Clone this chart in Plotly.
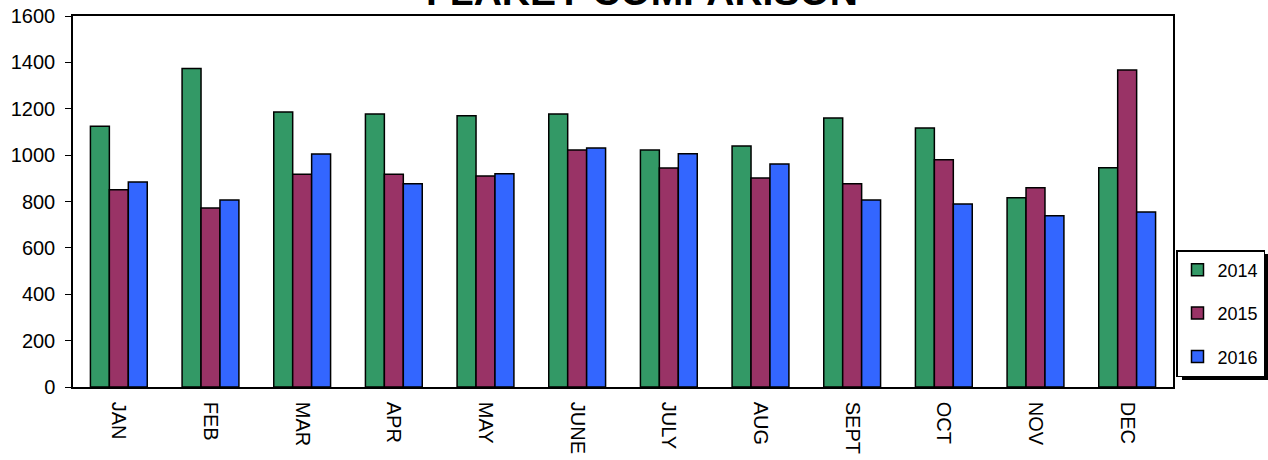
import plotly.graph_objects as go

months = ["JAN", "FEB", "MAR", "APR", "MAY", "JUNE", "JULY", "AUG", "SEPT", "OCT", "NOV", "DEC"]
v2014 = [1125, 1374, 1186, 1177, 1170, 1177, 1022, 1039, 1160, 1117, 816, 946]
v2015 = [851, 772, 918, 918, 910, 1022, 944, 901, 877, 980, 859, 1367]
v2016 = [884, 806, 1005, 877, 920, 1031, 1006, 962, 807, 789, 739, 755]
series = [("2014", v2014, "#339966"), ("2015", v2015, "#993366"), ("2016", v2016, "#3366FF")]

FONT = "Arial, Liberation Sans, sans-serif"
W, H = 1268, 460
ML, MR, MT, MB = 73, 95, 16, 73
PW, PH = W - ML - MR, H - MT - MB


def px_x(p):
    return (p - ML) / PW


def px_y(p):
    return (H - MB - p) / PH


fig = go.Figure()
for name, vals, col in series:
    fig.add_trace(go.Bar(
        x=months, y=vals, name=name, legendgroup=name,
        marker=dict(color=col, line=dict(color="black", width=1.5)),
    ))

LEG_R, LEG_T = 1265, 250
fig.update_layout(
    width=W, height=H,
    margin=dict(l=ML, r=MR, t=MT, b=MB, autoexpand=False),
    paper_bgcolor="white", plot_bgcolor="white",
    barmode="group", bargap=0.38, bargroupgap=0,
    font=dict(family=FONT, size=20, color="black"),
    showlegend=True,
    legend=dict(
        x=px_x(LEG_R), y=px_y(LEG_T), xanchor="right", yanchor="top",
        bordercolor="black", borderwidth=1.5, bgcolor="white",
        font=dict(size=18), tracegroupgap=17,
        itemwidth=30,
    ),
    annotations=[dict(
        text="<b>FLAKEY COMPARISON</b>", x=px_x(642), y=1, xref="paper", yref="paper",
        xanchor="center", yanchor="bottom", yshift=1, showarrow=False,
        font=dict(size=39, family=FONT, color="black"),
    )],
)
fig.update_xaxes(
    showline=True, linecolor="black", linewidth=1.5, mirror=True,
    tickangle=90, ticks="", showgrid=False, automargin=False,
    ticklabelstandoff=9,
)
fig.update_yaxes(
    range=[0, 1600], dtick=200, showline=True, linecolor="black", linewidth=1.5,
    mirror=True, ticks="outside", ticklen=6, tickcolor="black", showgrid=False,
    zeroline=False, automargin=False, ticklabelstandoff=6,
)
# legend drop shadow
fig.add_shape(type="rect", xref="paper", yref="paper",
              x0=px_x(1182), x1=px_x(LEG_R + 3), y0=px_y(380), y1=px_y(LEG_T + 4),
              fillcolor="black", line=dict(width=0), layer="below")

fig.write_html("out.html", config={"displayModeBar": False},
               post_script="document.body.style.margin='0';document.body.style.overflow='hidden';")
